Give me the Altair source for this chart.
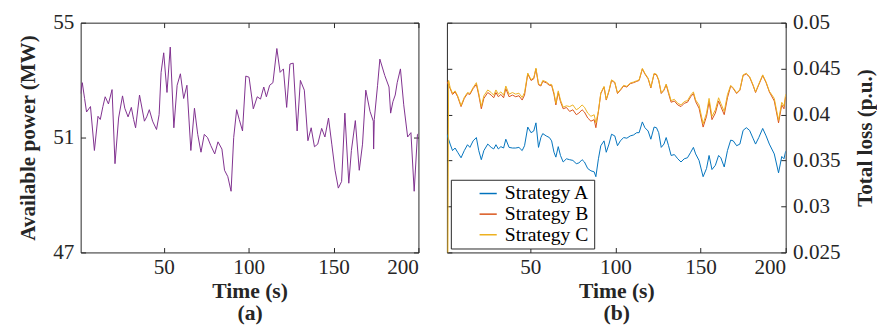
import altair as alt
import pandas as pd

# ---------------- data ----------------
time_power = [1.0, 1.96, 3.31, 4.47, 6.78, 9.09, 11.21, 12.56, 14.1, 15.45, 17.37, 19.49, 21.23, 23.35,
              25.66, 27.0, 28.93, 30.86, 32.2, 33.36, 35.68, 38.56, 39.91, 41.45, 43.38, 45.69, 47.23,
              48.39, 49.93, 51.86, 53.78, 55.9, 57.83, 59.76, 61.68, 63.61, 65.92, 68.04, 69.97, 71.89,
              73.82, 75.74, 77.67, 79.98, 81.91, 84.22, 85.76, 87.69, 89.61, 91.16, 92.89, 94.43, 96.36,
              98.28, 100.21, 102.71, 105.03, 106.95, 108.88, 110.42, 112.35, 114.27, 116.58, 118.51,
              120.44, 122.36, 124.29, 126.22, 128.53, 130.45, 132.77, 134.88, 136.81, 138.74, 140.66,
              142.98, 144.9, 147.02, 148.95, 150.87, 152.8, 154.73, 156.65, 158.96, 160.5, 162.82,
              165.13, 167.06, 168.98, 171.48, 173.41, 173.6, 173.99, 175.92, 177.27, 180.16, 182.66,
              183.62, 184.97, 186.32, 187.48, 189.4, 191.33, 193.64, 195.57, 197.49, 199.42, 200.0]
power = [52.53, 52.91, 52.36, 51.89, 52.08, 50.55, 51.74, 51.63, 52.08, 52.42, 52.17, 52.67, 50.09, 51.68,
         52.45, 52.02, 51.72, 52.05, 51.63, 51.34, 52.48, 51.57, 51.72, 51.97, 51.57, 51.28, 51.8,
         53.27, 53.95, 52.57, 54.15, 51.34, 52.82, 53.22, 52.36, 52.82, 50.55, 52.02, 51.11, 50.49,
         51.11, 51.0, 50.72, 50.43, 50.85, 50.6, 49.86, 49.64, 49.13, 51.0, 51.97, 51.63, 51.23,
         53.14, 53.1, 52.0, 52.42, 52.34, 52.76, 52.42, 52.82, 52.91, 54.1, 53.27,
         53.39, 52.05, 53.56, 53.59, 51.23, 52.99, 52.65, 50.89, 51.34, 50.68, 50.77,
         51.32, 51.02, 51.68, 50.77, 49.86, 49.24, 49.47, 51.85, 49.41, 50.55, 51.59,
         49.86, 50.77, 52.65, 51.91, 51.57, 50.6, 51.63, 52.82, 53.73, 53.16, 52.76,
         51.85, 52.25, 52.48, 52.91, 53.39, 52.14, 51.02, 51.17, 49.13, 51.11, 51.14]

time_loss = [1.0, 2.9, 4.3, 5.8, 7.3, 9.3, 11.2, 13.1, 14.5, 16.4,
             18.3, 19.7, 21.2, 22.7, 25.0, 27.0, 28.5, 29.8, 31.2, 32.7,
             34.3, 35.6, 37.5, 39.5, 41.4, 43.3, 45.2, 46.6, 48.5, 50.4,
             52.0, 53.3, 54.8, 56.2, 57.3, 59.3, 61.2, 62.5, 63.9, 65.0,
             66.4, 67.7, 69.3, 71.2, 73.1, 75.0, 77.0, 78.5, 80.4, 81.8,
             83.7, 85.6, 87.5, 88.5, 90.0, 91.4, 93.3, 94.6, 96.2, 97.7,
             99.6, 101.2, 102.9, 104.8, 106.7, 108.7, 110.6, 112.5, 113.9, 115.8,
             117.3, 119.2, 120.8, 122.7, 124.1, 125.4, 126.9, 128.5, 129.8, 131.2,
             132.7, 134.6, 136.6, 138.5, 140.4, 142.3, 144.2, 145.8, 147.1, 149.1,
             151.5, 153.5, 155.0, 156.7, 158.7, 160.6, 161.9, 163.9, 165.8, 167.7,
             169.2, 171.2, 173.1, 175.0, 176.9, 178.8, 180.8, 182.3, 184.2, 186.5,
             188.5, 190.4, 193.3, 195.8, 197.7, 199.0, 200.0]

loss_a = [0.03786, 0.03679, 0.03608, 0.03636, 0.03590, 0.03530, 0.03608, 0.03672, 0.03643, 0.03714,
          0.03750, 0.03608, 0.03509, 0.03608, 0.03679, 0.03643, 0.03626, 0.03672, 0.03626, 0.03651,
          0.03636, 0.03732, 0.03643, 0.03636, 0.03636, 0.03643, 0.03608, 0.03661, 0.03864, 0.03803,
          0.03821, 0.03910, 0.03643, 0.03750, 0.03793, 0.03768, 0.03750, 0.03714, 0.03590, 0.03537,
          0.03651, 0.03555, 0.03484, 0.03519, 0.03509, 0.03501, 0.03466, 0.03473, 0.03509, 0.03484,
          0.03413, 0.03388, 0.03377, 0.03324, 0.03519, 0.03661, 0.03714, 0.03590, 0.03679, 0.03786,
          0.03768, 0.03661, 0.03714, 0.03750, 0.03743, 0.03768, 0.03778, 0.03803, 0.03803, 0.03920,
          0.03857, 0.03821, 0.03732, 0.03864, 0.03857, 0.03803, 0.03643, 0.03679, 0.03750, 0.03661,
          0.03555, 0.03565, 0.03519, 0.03484, 0.03519, 0.03530, 0.03590, 0.03643, 0.03572, 0.03501,
          0.03324, 0.03413, 0.03555, 0.03402, 0.03448, 0.03555, 0.03530, 0.03430, 0.03608, 0.03722,
          0.03714, 0.03661, 0.03679, 0.03828, 0.03857, 0.03828, 0.03743, 0.03679, 0.03750, 0.03849,
          0.03768, 0.03679, 0.03572, 0.03366, 0.03544, 0.03519, 0.03601]

loss_b = [0.04361, 0.04283, 0.04219, 0.04247, 0.04194, 0.04087, 0.04176, 0.04229, 0.04219, 0.04283,
          0.04329, 0.04212, 0.04063, 0.04176, 0.04240, 0.04212, 0.04183, 0.04240, 0.04194, 0.04219,
          0.04183, 0.04283, 0.04194, 0.04212, 0.04194, 0.04205, 0.04158, 0.04212, 0.04442, 0.04371,
          0.04389, 0.04496, 0.04325, 0.04311, 0.04361, 0.04347, 0.04318, 0.04318, 0.04219, 0.04105,
          0.04240, 0.04141, 0.04063, 0.04077, 0.04034, 0.04052, 0.03999, 0.04016, 0.04052, 0.04027,
          0.03963, 0.03928, 0.03945, 0.03857, 0.04034, 0.04229, 0.04300, 0.04158, 0.04254, 0.04371,
          0.04347, 0.04229, 0.04265, 0.04311, 0.04300, 0.04336, 0.04347, 0.04361, 0.04371, 0.04496,
          0.04442, 0.04389, 0.04290, 0.04442, 0.04432, 0.04371, 0.04229, 0.04265, 0.04325, 0.04229,
          0.04134, 0.04148, 0.04105, 0.04087, 0.04123, 0.04134, 0.04194, 0.04229, 0.04141, 0.04070,
          0.03864, 0.03981, 0.04141, 0.03945, 0.04016, 0.04148, 0.04087, 0.03999, 0.04183, 0.04311,
          0.04283, 0.04229, 0.04265, 0.04425, 0.04442, 0.04407, 0.04318, 0.04240, 0.04325, 0.04425,
          0.04347, 0.04247, 0.04148, 0.03910, 0.04105, 0.04063, 0.04194]

loss_c = [0.0,
          0.04372, 0.04294, 0.04230, 0.04258, 0.04205, 0.04098, 0.04187, 0.04240, 0.04230, 0.04294,
          0.04347, 0.04230, 0.04088, 0.04204, 0.04268, 0.04240, 0.04211, 0.04268, 0.04222, 0.04247,
          0.04211, 0.04311, 0.04222, 0.04240, 0.04222, 0.04233, 0.04186, 0.04240, 0.04452, 0.04381,
          0.04399, 0.04506, 0.04335, 0.04321, 0.04371, 0.04357, 0.04328, 0.04328, 0.04237, 0.04123,
          0.04258, 0.04159, 0.04081, 0.04095, 0.04087, 0.04105, 0.04052, 0.04069, 0.04105, 0.04080,
          0.04016, 0.03981, 0.03998, 0.03910, 0.04041, 0.04236, 0.04307, 0.04165, 0.04261, 0.04378,
          0.04354, 0.04236, 0.04272, 0.04318, 0.04307, 0.04343, 0.04354, 0.04368, 0.04378, 0.04503,
          0.04449, 0.04396, 0.04297, 0.04449, 0.04439, 0.04378, 0.04236, 0.04272, 0.04332, 0.04247,
          0.04152, 0.04166, 0.04123, 0.04105, 0.04141, 0.04152, 0.04212, 0.04247, 0.04159, 0.04105,
          0.03899, 0.04016, 0.04176, 0.03980, 0.04051, 0.04183, 0.04122, 0.04034, 0.04218, 0.04318,
          0.04290, 0.04236, 0.04272, 0.04432, 0.04449, 0.04414, 0.04325, 0.04247, 0.04332, 0.04432,
          0.04354, 0.04254, 0.04176, 0.03938, 0.04133, 0.04091, 0.04222]
time_c = [1.0, 2.0] + time_loss[1:]

strategies = ["Strategy A", "Strategy B", "Strategy C"]
colors = ["#0072BD", "#D95319", "#EDB120"]
power_ticks = [47, 51, 55]
loss_ticks = [0.025, 0.03, 0.035, 0.04, 0.045, 0.05]
time_ticks = [50, 100, 150, 200]

# ---------------- frames ----------------
df_power = pd.DataFrame({"t": time_power, "p": power})
df_loss = pd.concat([
    pd.DataFrame({"t": time_loss, "v": loss_a, "s": strategies[0], "o": 0}),
    pd.DataFrame({"t": time_loss, "v": loss_b, "s": strategies[1], "o": 1}),
    pd.DataFrame({"t": time_c, "v": loss_c, "s": strategies[2], "o": 2}),
], ignore_index=True)

FONT = "Liberation Serif, Times New Roman, DejaVu Serif, serif"
TICK = 5
W1, W2, H = 344, 345, 234
INK = "#262626"

xscale = alt.Scale(domain=[1, 200], nice=False, zero=False)


def xaxis(title, orient="bottom", labels=True):
    kw = dict(orient=orient, values=time_ticks, domain=False, grid=False, tickSize=TICK,
              offset=-TICK, tickColor=INK, labels=labels, labelPadding=4,
              labelFont=FONT, labelFontSize=21.5, labelColor=INK)
    if title is not None:
        kw.update(title=title, titleFont=FONT, titleFontSize=22, titleFontWeight="bold",
                  titleColor=INK, titleLineHeight=22.5, titlePadding=3)
    else:
        kw.update(title=None)
    return alt.Axis(**kw)


def yaxis(values, orient, labels, title=None, fmt=None, title_pad=10, angle=None, baseline=None):
    kw = dict(orient=orient, values=values, domain=False, grid=False, tickSize=TICK,
              offset=-TICK, tickColor=INK, labels=labels, labelPadding=7,
              labelFont=FONT, labelFontSize=21.5, labelColor=INK)
    if fmt:
        kw["format"] = fmt
    if title is not None:
        kw.update(title=title, titleFont=FONT, titleFontSize=21.5, titleFontWeight="bold",
                  titleColor=INK, titlePadding=title_pad)
        if angle is not None:
            kw["titleAngle"] = angle
        if baseline is not None:
            kw["titleBaseline"] = baseline
    else:
        kw["title"] = None
    return alt.Axis(**kw)


# ---------------- panel (a) ----------------
pscale = alt.Scale(domain=[47, 55], nice=False, zero=False)
a_main = alt.Chart(df_power).mark_line(color="#7E2F8E", strokeWidth=1, clip=True).encode(
    x=alt.X("t:Q", scale=xscale, axis=xaxis(["Time (s)", "(a)"])),
    y=alt.Y("p:Q", scale=pscale, axis=yaxis(power_ticks, "left", True, "Available power (MW)", title_pad=13)),
)
a_ghost = alt.Chart(df_power).mark_line(strokeOpacity=0, clip=True).encode(
    x=alt.X("t:Q", scale=xscale, axis=xaxis(None, "top", False)),
    y=alt.Y("p:Q", scale=pscale, axis=yaxis(power_ticks, "right", False)),
)
panel_a = alt.layer(a_main, a_ghost).resolve_axis(x="independent", y="independent").properties(
    width=W1, height=H)

# ---------------- panel (b) ----------------
lscale = alt.Scale(domain=[0.025, 0.05], nice=False, zero=False)
legend = alt.Legend(orient="none", legendX=377, legendY=160, title=None, strokeColor=INK,
                    fillColor="white", padding=4, symbolType="M-2.5,0H2.5", symbolSize=49,
                    symbolStrokeWidth=1.5, symbolOffset=24, labelOffset=7, labelFontSize=20,
                    labelFont=FONT, labelColor="black", rowPadding=1, labelLimit=0, cornerRadius=0)
b_main = alt.Chart(df_loss).mark_line(strokeWidth=1, clip=True).encode(
    x=alt.X("t:Q", scale=xscale, axis=xaxis(["Time (s)", "(b)"])),
    y=alt.Y("v:Q", scale=lscale, axis=yaxis(loss_ticks, "right", True, "Total loss (p.u.)",
                                              fmt=".3~f", title_pad=15, angle=270, baseline="top")),
    color=alt.Color("s:N", scale=alt.Scale(domain=strategies, range=colors), legend=legend),
    order="o:Q",
)
b_ghost = alt.Chart(df_loss).mark_line(strokeOpacity=0, clip=True).encode(
    x=alt.X("t:Q", scale=xscale, axis=xaxis(None, "top", False)),
    y=alt.Y("v:Q", scale=lscale, axis=yaxis(loss_ticks, "left", False)),
    detail="s:N",
)
panel_b = alt.layer(b_main, b_ghost).resolve_axis(x="independent", y="independent").properties(
    width=W2, height=H)

chart = alt.hconcat(panel_a, panel_b, spacing=27).properties(
    padding={"left": 10, "top": 0, "right": 0, "bottom": 0}
).configure(background="white", font=FONT).configure_view(stroke=INK, strokeWidth=1)

chart.save("out.html", embed_options={"renderer": "svg", "actions": False})
